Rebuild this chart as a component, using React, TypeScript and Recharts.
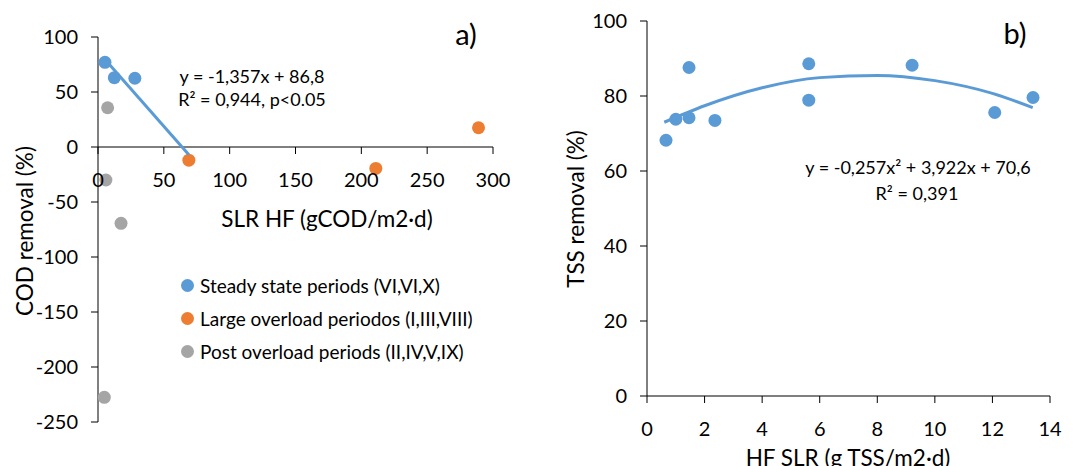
import React from "react";
import { ScatterChart, Scatter, XAxis, YAxis, ReferenceLine } from "recharts";

// ---- panel a) COD removal vs SLR HF ----
const steadyX = [5.3, 12.4, 28];
const steadyY = [77, 63, 62.5];
const overloadX = [69, 211, 289];
const overloadY = [-12, -19.5, 17.5];
const postX = [7.3, 6, 17.5, 4.8];
const postY = [35.7, -30, -69.4, -227.6];
const codFitX = [5, 69];
const codFitY = [80, -7];
const codXTicks = [0, 50, 100, 150, 200, 250, 300];
const codYTicks = [-250, -200, -150, -100, -50, 0, 50, 100];
const codSeriesNames = [
  "Steady state periods (VI,VI,X)",
  "Large overload periodos (I,III,VIII)",
  "Post overload periods (II,IV,V,IX)",
];

// ---- panel b) TSS removal vs HF SLR ----
const tssX = [0.66, 1.0, 1.46, 1.46, 2.36, 5.62, 5.62, 9.21, 12.08, 13.41];
const tssY = [68.2, 73.8, 87.6, 74.2, 73.5, 88.6, 78.9, 88.2, 75.6, 79.6];
const tssFitX = [0.6, 2, 4, 6, 8, 10, 12, 13.4];
const tssFitY = [73.0, 77.4, 82.2, 84.9, 85.5, 84.1, 80.7, 76.9];
const tssXTicks = [0, 2, 4, 6, 8, 10, 12, 14];
const tssYTicks = [0, 20, 40, 60, 80, 100];

const BLUE = "#5B9BD5";
const ORANGE = "#ED7D31";
const GRAY = "#A5A5A5";
const codColors = [BLUE, ORANGE, GRAY];
const AXIS = "#000000";
const FONT = "Lato, 'Open Sans', sans-serif";

const zip = (xs: number[], ys: number[]) => xs.map((x, i) => ({ x, y: ys[i] }));

const dot = (color: string) => (props: any) =>
  <circle cx={props.cx} cy={props.cy} r={6.5} fill={color} />;
const noDot = () => <g />;

const W = 540;
const H = 466;
const TICK_FONT = 20;
const TITLE_FONT = 22.5;
const EQ_FONT = 18;
const PANEL_FONT = 29;

// left chart geometry
const aMargin = { top: 37, right: 47, bottom: 43, left: 0 };
const aYMin = -250;
const aYMax = 100;
const aPlotH = H - aMargin.top - aMargin.bottom - 1;
const aZeroY = aMargin.top + (aPlotH * aYMax) / (aYMax - aYMin);

// x axis of panel a) crosses at y = 0
const CodXTick = (props: any) => {
  const { x, payload } = props;
  return (
    <g>
      <line x1={x} x2={x} y1={aZeroY} y2={aZeroY + 7} stroke={AXIS} strokeWidth={1} />
      <text x={x} y={aZeroY + 32} textAnchor="middle" dominantBaseline="central" fontSize={TICK_FONT} fill="#000" fontFamily={FONT}>
        {payload.value}
      </text>
    </g>
  );
};

function CodLegend() {
  return (
    <div style={{ position: "absolute", left: 181, top: 269, fontFamily: FONT, fontSize: 19, color: "#000", whiteSpace: "nowrap" }}>
      {codSeriesNames.map((name, i) => (
        <div key={name} style={{ display: "flex", alignItems: "center", height: 33 }}>
          <span style={{ width: 13, height: 13, borderRadius: "50%", background: codColors[i], marginRight: 6, display: "inline-block" }} />
          <span>{name}</span>
        </div>
      ))}
    </div>
  );
}

function PanelA() {
  return (
    <ScatterChart width={W} height={H} margin={aMargin} style={{ fontFamily: FONT }}>
      <XAxis
        type="number"
        dataKey="x"
        domain={[0, 300]}
        ticks={codXTicks}
        height={1}
        axisLine={false}
        tickLine={false}
        tick={<CodXTick />}
        interval={0}
      />
      <YAxis
        type="number"
        dataKey="y"
        domain={[aYMin, aYMax]}
        ticks={codYTicks}
        width={98}
        interval={0}
        axisLine={{ stroke: AXIS }}
        tickLine={{ stroke: AXIS }}
        tickSize={7}
        tickMargin={13}
        tick={{ fontSize: TICK_FONT, fill: "#000" }}
      />
      <ReferenceLine y={0} stroke={AXIS} strokeWidth={1} />
      <Scatter name={codSeriesNames[0]} data={zip(steadyX, steadyY)} fill={BLUE} shape={dot(BLUE)} isAnimationActive={false} />
      <Scatter name={codSeriesNames[1]} data={zip(overloadX, overloadY)} fill={ORANGE} shape={dot(ORANGE)} isAnimationActive={false} />
      <Scatter name={codSeriesNames[2]} data={zip(postX, postY)} fill={GRAY} shape={dot(GRAY)} isAnimationActive={false} />
      <Scatter
        name="fit"
        data={zip(codFitX, codFitY)}
        line={{ stroke: BLUE, strokeWidth: 3 }}
        shape={noDot}
        isAnimationActive={false}
      />
      <text x={252} y={76} textAnchor="middle" dominantBaseline="central" fontSize={EQ_FONT} fontFamily={FONT} fill="#000">
        y = -1,357x + 86,8
      </text>
      <text x={252} y={99} textAnchor="middle" dominantBaseline="central" fontSize={EQ_FONT} fontFamily={FONT} fill="#000">
        R² = 0,944, p&lt;0.05
      </text>
      <text x={466} y={33} textAnchor="middle" dominantBaseline="central" fontSize={PANEL_FONT} fontFamily={FONT} fill="#000">
        a)
      </text>
      <text x={327} y={218} textAnchor="middle" dominantBaseline="central" fontSize={TITLE_FONT} fontFamily={FONT} fill="#000">
        SLR HF (gCOD/m2·d)
      </text>
      <text
        x={24}
        y={231}
        textAnchor="middle"
        dominantBaseline="central"
        fontSize={TITLE_FONT}
        fontFamily={FONT}
        fill="#000"
        transform="rotate(-90 24 231)"
      >
        COD removal (%)
      </text>
    </ScatterChart>
  );
}

function PanelB() {
  return (
    <ScatterChart width={W} height={H} margin={{ top: 21, right: 30, bottom: 10, left: 0 }} style={{ fontFamily: FONT }}>
      <XAxis
        type="number"
        dataKey="x"
        domain={[0, 14]}
        ticks={tssXTicks}
        interval={0}
        height={60}
        axisLine={{ stroke: AXIS }}
        tickLine={{ stroke: AXIS }}
        tickSize={7}
        tickMargin={19}
        tick={{ fontSize: TICK_FONT, fill: "#000" }}
      />
      <YAxis
        type="number"
        dataKey="y"
        domain={[0, 100]}
        ticks={tssYTicks}
        interval={0}
        width={107}
        axisLine={{ stroke: AXIS }}
        tickLine={{ stroke: AXIS }}
        tickSize={7}
        tickMargin={13}
        tick={{ fontSize: TICK_FONT, fill: "#000" }}
      />
      <Scatter
        name="fit"
        data={zip(tssFitX, tssFitY)}
        line={{ stroke: BLUE, strokeWidth: 3 }}
        lineJointType="monotoneX"
        shape={noDot}
        isAnimationActive={false}
      />
      <Scatter name="TSS" data={zip(tssX, tssY)} fill={BLUE} shape={dot(BLUE)} isAnimationActive={false} />
      <text x={378} y={167} textAnchor="middle" dominantBaseline="central" fontSize={EQ_FONT} fontFamily={FONT} fill="#000">
        y = -0,257x² + 3,922x + 70,6
      </text>
      <text x={377} y={193} textAnchor="middle" dominantBaseline="central" fontSize={EQ_FONT} fontFamily={FONT} fill="#000">
        R² = 0,391
      </text>
      <text x={475} y={32} textAnchor="middle" dominantBaseline="central" fontSize={PANEL_FONT} fontFamily={FONT} fill="#000">
        b)
      </text>
      <text x={308} y={457} textAnchor="middle" dominantBaseline="central" fontSize={TITLE_FONT} fontFamily={FONT} fill="#000">
        HF SLR (g TSS/m2·d)
      </text>
      <text
        x={35}
        y={209}
        textAnchor="middle"
        dominantBaseline="central"
        fontSize={TITLE_FONT}
        fontFamily={FONT}
        fill="#000"
        transform="rotate(-90 35 209)"
      >
        TSS removal (%)
      </text>
    </ScatterChart>
  );
}

export default function App() {
  return (
    <div style={{ position: "absolute", left: 0, top: 0, width: 1080, height: 466, background: "#fff", fontFamily: FONT }}>
      <div style={{ position: "absolute", left: 0, top: 0, width: W, height: H }}>
        <PanelA />
        <CodLegend />
      </div>
      <div style={{ position: "absolute", left: 540, top: 0, width: W, height: H }}>
        <PanelB />
      </div>
    </div>
  );
}
